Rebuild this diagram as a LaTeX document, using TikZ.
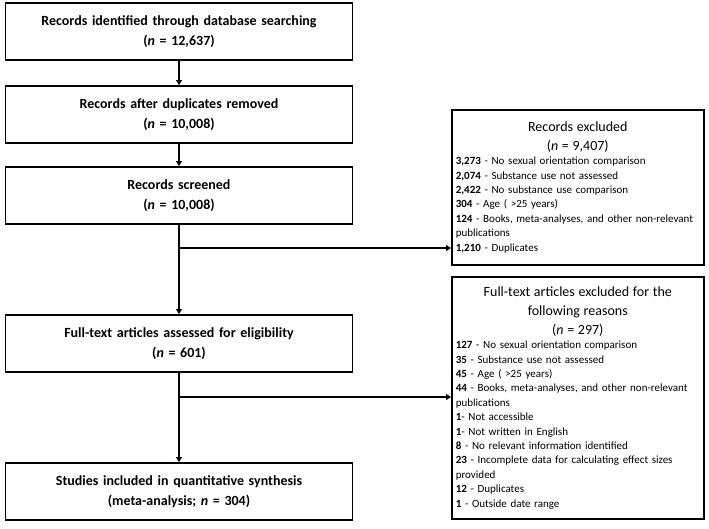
\documentclass[tikz,border=0pt]{standalone}
\usepackage{fontspec}
\setmainfont{Carlito}
\usetikzlibrary{arrows.meta}
\tikzset{
  stage/.style={draw, line width=1.6pt, text width=340pt, minimum height=57pt,
                align=center, font=\bfseries\fontsize{14}{20}\selectfont, anchor=north},
  excl/.style={draw, line width=1.6pt, text width=244pt, anchor=north west,
               inner sep=4pt, font=\fontsize{11}{14.4}\selectfont},
  flow/.style={line width=2pt, -{Triangle[length=5pt,width=6pt]}},
}
\begin{document}
\begin{tikzpicture}[x=1pt,y=-1pt]
      \useasboundingbox (0,0) rectangle (709,528);
      \node[stage] (ident) at (179, 2) {Records identified through database searching\\(\textit{n} = 12,637)};
      \node[stage] (dupl) at (179, 85) {Records after duplicates removed\\(\textit{n} = 10,008)};
      \node[stage] (screen) at (179, 166) {Records screened\\(\textit{n} = 10,008)};
      \node[stage] (full) at (179, 314) {Full-text articles assessed for eligibility\\(\textit{n} = 601)};
      \node[stage] (incl) at (179, 462) {Studies included in quantitative synthesis\\(meta-analysis; \textit{n} = 304)};
      \node[excl, minimum height=155pt] (recex) at (451, 109) {%
        {\centering\fontsize{14}{19}\selectfont Records excluded\\(\textit{n} = 9,407)\par}
        \raggedright
        \textbf{3,273} - No sexual orientation comparison\\
        \textbf{2,074} - Substance use not assessed\\
        \textbf{2,422} - No substance use comparison\\
        \textbf{304} - Age ( >25 years)\\
        \textbf{124} - Books, meta-analyses, and other non-relevant publications\\
        \textbf{1,210} - Duplicates};
      \node[excl, minimum height=242pt] (fullex) at (451, 276) {%
        {\centering\fontsize{14}{19}\selectfont Full-text articles excluded for the following reasons\\(\textit{n} = 297)\par}
        \raggedright
        \textbf{127} - No sexual orientation comparison\\
        \textbf{35} - Substance use not assessed\\
        \textbf{45} - Age ( >25 years)\\
        \textbf{44} - Books, meta-analyses, and other non-relevant publications\\
        \textbf{1}- Not accessible\\
        \textbf{1}- Not written in English\\
        \textbf{8} - No relevant information identified\\
        \textbf{23} - Incomplete data for calculating effect sizes provided\\
        \textbf{12} - Duplicates\\
        \textbf{1} - Outside date range};
      \coordinate (split1) at (179, 248);
      \coordinate (split2) at (179, 397);
      \draw[flow] (ident) -- (dupl);
      \draw[flow] (dupl) -- (screen);
      \draw[flow] (screen) -- (full);
      \draw[flow] (full) -- (incl);
      \draw[flow] (split1) -- (split1 -| recex.west);
      \draw[flow] (split2) -- (split2 -| fullex.west);
\end{tikzpicture}
\end{document}
